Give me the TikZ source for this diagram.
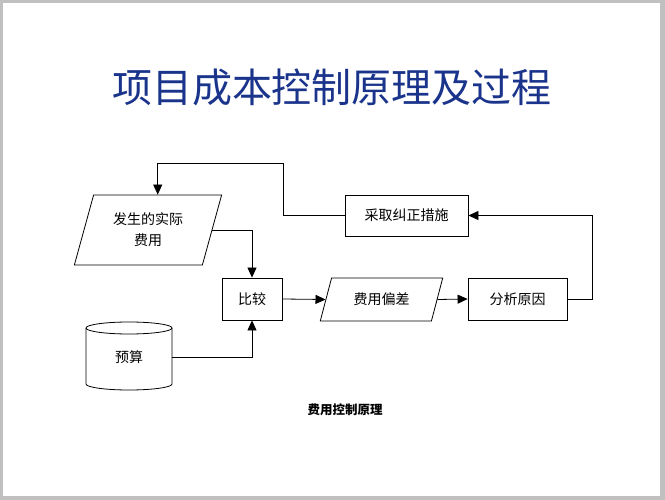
\documentclass[tikz,border=0pt]{standalone}
\usepackage{fontspec}
\newfontfamily\cjk{Noto Sans CJK SC}
\usetikzlibrary{shapes.geometric,arrows.meta}
\definecolor{titleblue}{RGB}{26,52,140}
\definecolor{framegray}{RGB}{192,192,192}
\begin{document}
\begin{tikzpicture}[x=1pt,y=-1pt,
  lbl/.style={font=\cjk\fontsize{14}{21}\selectfont},
  box/.style={lbl,draw,line width=0.8pt,rectangle,inner sep=0pt},
  para/.style={lbl,draw,line width=0.8pt,trapezium,trapezium stretches=true,inner sep=0pt,align=center},
  arr/.style={line width=0.8pt,-{Triangle[length=10pt,width=9pt]}}]
\useasboundingbox (0,0) rectangle (665,500);
\fill[framegray] (0,0) rectangle (665,500);
\fill[white] (3,3) rectangle (660,496);

\node[font=\cjk\fontsize{40}{44}\selectfont,text=titleblue] (title) at (332,87) {项目成本控制原理及过程};

\node[para,minimum width=148,minimum height=70,trapezium left angle=70,trapezium right angle=110] (sj) at (148,230) {发生的实际\\费用};
\node[box,minimum width=60,minimum height=42] (bj) at (252,299) {比较};
\node[box,minimum width=123,minimum height=41] (cq) at (406.5,215.5) {采取纠正措施};
\node[para,minimum width=123,minimum height=43,trapezium left angle=64,trapezium right angle=116] (fy) at (381.5,299.5) {费用偏差};
\node[box,minimum width=99,minimum height=42] (fx) at (517.5,299) {分析原因};

% cylinder
\node[lbl,minimum width=86,minimum height=68,inner sep=0pt] (ys) at (129,357) {预算};
\draw[line width=0.8pt] (129,328) ellipse [x radius=43, y radius=6];
\draw[line width=0.8pt] (86,328) -- (86,384) arc[start angle=180,end angle=0,x radius=43,y radius=6] -- (172,328);

\node[font=\cjk\bfseries\fontsize{12.5}{14}\selectfont] (cap) at (345,410) {费用控制原理};

\coordinate (tl) at (283,163);
\draw[arr] (sj.right side) -| (bj.north);
\draw[arr] (ys.east) -| (bj.south);
\draw[arr] (bj.east) -- (fy.left side);
\draw[arr] (fy.right side) -- (fx.west);
\draw[arr] (fx.east) -- ++(25,0) |- (cq.east);
\draw[arr] (cq.west) -| (tl) -| (sj.top side);
\end{tikzpicture}
\end{document}
